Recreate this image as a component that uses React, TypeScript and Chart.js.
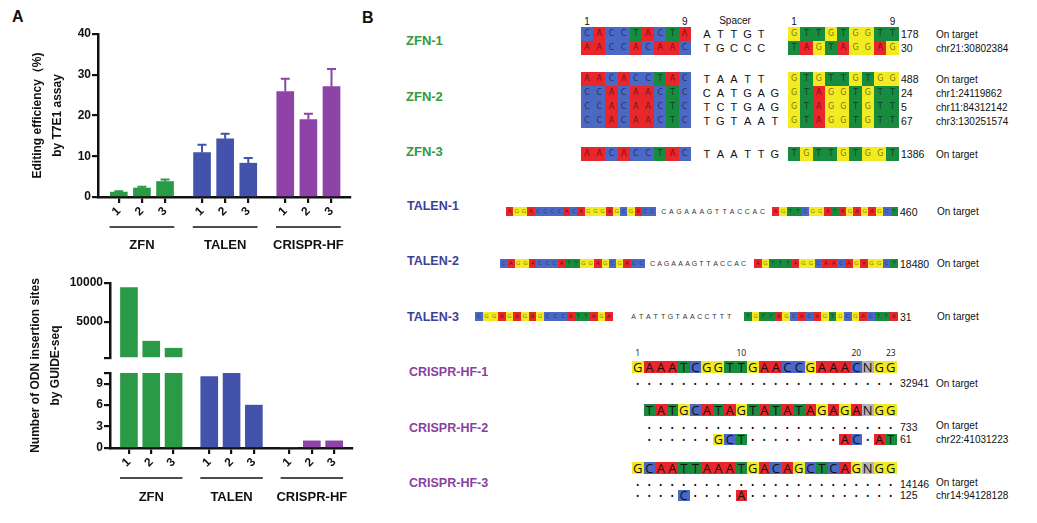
import React, { useEffect, useRef } from 'react';
import { Chart, registerables } from 'chart.js';

Chart.register(...registerables);

// ---------------- Panel A data ----------------
const groupNames = ['ZFN', 'TALEN', 'CRISPR-HF'];
const barGroup = [0, 0, 0, 1, 1, 1, 2, 2, 2];
const barLabels = ['1', '2', '3', '1', '2', '3', '1', '2', '3'];
const barX = [1, 2, 3, 4.6, 5.6, 6.6, 8.2, 9.2, 10.2];
const t7e1Values = [1.2, 2.2, 3.8, 10.9, 14.3, 8.3, 25.9, 19.0, 27.1];
const t7e1Errors = [0.2, 0.3, 0.5, 1.9, 1.2, 1.3, 3.1, 1.4, 4.3];
const t7e1Ticks = [0, 10, 20, 30, 40];
const guideSeqValues = [9400, 2550, 1650, 10, 11, 6, 0, 1, 1];
const lowerTicks = [0, 3, 6, 9];
const lowerMax = 10.5;
const upperTicks = [5000, 10000];
const upperMin = 400;
const groupColors = ['#2b9a46', '#4353ac', '#8d44a6'];

// ---------------- Panel B data ----------------
const zfnNames = ['ZFN-1', 'ZFN-2', 'ZFN-3'];
const zfnLeft = [['CACCTACTA', 'AACCACAAC'], ['AACACCTAC', 'CCACAACTC', 'CCACAACTC', 'CCACAACTC'], ['AACACCTAC']];
const zfnSpacer = [['ATTGT', 'TGCCC'], ['TAATT', 'CATGAG', 'TCTGAG', 'TGTAAT'], ['TAATTG']];
const zfnRight = [['GTTGTGGTT', 'TAGTAGGAG'], ['GTGTTGTGG', 'GTAGGTGTT', 'GTAGGTGTT', 'GTAGGTGTT'], ['TGTTGTGGT']];
const zfnCounts = [['178', '30'], ['488', '24', '5', '67'], ['1386']];
const zfnSites = [['On target', 'chr21:30802384'], ['On target', 'chr1:24119862', 'chr11:84312142', 'chr3:130251574'], ['On target']];

const talenNames = ['TALEN-1', 'TALEN-2', 'TALEN-3'];
const talenLeft = ['AGGACCCCACAGGGAGCGACC', 'CAGGACCCATTGGAGCGACC', 'CGGAGAGAGCCCATTAGA'];
const talenSpacer = ['CAGAAAGTTACCAC', 'CAGAAAGTTACCAC', 'ATATTGTAACCTTT'];
const talenRight = ['AGTTCGGATAGAGAGCT', 'AGTTTAGGCAACAGAGGCT', 'TGTTAGCACAGTGCGACTTA'];
const talenCounts = ['460', '18480', '31'];
const talenSites = ['On target', 'On target', 'On target'];

const crisprNames = ['CRISPR-HF-1', 'CRISPR-HF-2', 'CRISPR-HF-3'];
const crisprGuides = ['GAAATCGGTTGAACCGAAACNGG', '-TATGCATAGTATATAGAGANGG', 'GCAATTAAATGACAGCTCAGNGG'];
const crisprHits = [
  ['.......................'],
  ['-......................', '-......GCT........AC.AT'],
  ['.......................', '....C....A.............'],
];
const crisprCounts = [['32941'], ['733', '61'], ['14146', '125']];
const crisprSites = [['On target'], ['On target', 'chr22:41031223'], ['On target', 'chr14:94128128']];
const crisprPosLabels = ['1', '10', '20', '23'];
const crisprPosCols = [1, 10, 20, 23];

const baseColors: Record<string, string> = {
  A: '#e8262b',
  C: '#4a68c4',
  G: '#f3eb22',
  T: '#178c3e',
  N: '#b4b4b4',
};

const SANS = '"Liberation Sans", Arial, sans-serif';
const OPEN = '"Open Sans", "DejaVu Sans", sans-serif';
const DEJA = '"DejaVu Sans", sans-serif';

const barColors = barGroup.map((g) => groupColors[g]);

Chart.defaults.font.family = SANS;

// ---------------- plugins ----------------
function groupPlugin(lineOffset: number, labelOffset: number) {
  return {
    id: 'groups',
    afterDraw(chart: any) {
      const { ctx, chartArea } = chart;
      const xs = chart.scales.x;
      ctx.save();
      groupNames.forEach((name, g) => {
        const idx = barGroup.map((gg, i) => (gg === g ? i : -1)).filter((i) => i >= 0);
        const x0 = xs.getPixelForValue(barX[idx[0]] - 0.4);
        const x1 = xs.getPixelForValue(barX[idx[idx.length - 1]] + 0.4);
        const y = chartArea.bottom + lineOffset;
        ctx.strokeStyle = '#111';
        ctx.lineWidth = 1.6;
        ctx.beginPath();
        ctx.moveTo(x0, y);
        ctx.lineTo(x1, y);
        ctx.stroke();
        ctx.fillStyle = '#111';
        ctx.font = 'bold 13px ' + SANS;
        ctx.textAlign = 'center';
        ctx.textBaseline = 'middle';
        ctx.fillText(name, (x0 + x1) / 2, chartArea.bottom + labelOffset);
      });
      ctx.restore();
    },
  };
}

const errorPlugin = {
  id: 'errBars',
  afterDatasetsDraw(chart: any) {
    const { ctx } = chart;
    const ys = chart.scales.y;
    const meta = chart.getDatasetMeta(0);
    ctx.save();
    meta.data.forEach((bar: any, i: number) => {
      const v = t7e1Values[i];
      const yv = ys.getPixelForValue(v);
      const yt = ys.getPixelForValue(v + t7e1Errors[i]);
      ctx.strokeStyle = barColors[i];
      ctx.lineWidth = 2;
      ctx.beginPath();
      ctx.moveTo(bar.x, yv);
      ctx.lineTo(bar.x, yt);
      ctx.moveTo(bar.x - 4.5, yt);
      ctx.lineTo(bar.x + 4.5, yt);
      ctx.stroke();
    });
    ctx.restore();
  },
};

function xScale(min: number, max: number, height: number) {
  return {
    type: 'linear',
    min,
    max,
    offset: false,
    z: 1,
    afterBuildTicks: (s: any) => {
      s.ticks = barX.map((v) => ({ value: v }));
    },
    afterFit: (s: any) => {
      s.height = height;
    },
    ticks: {
      autoSkip: false,
      minRotation: 45,
      maxRotation: 45,
      padding: 1,
      color: '#111',
      font: { size: 12, weight: 'bold' },
      callback: (_v: any, i: number) => barLabels[i],
    },
    grid: { drawOnChartArea: false, drawTicks: true, tickLength: 6, color: '#111', lineWidth: 2.2, offset: false },
    border: { display: true, color: '#111', width: 2.5 },
  };
}

const yCommon = {
  grid: { drawOnChartArea: false, drawTicks: true, tickLength: 6, color: '#111', lineWidth: 2.2 },
  border: { display: true, color: '#111', width: 2.5 },
};

function makeTop(canvas: HTMLCanvasElement) {
  return new Chart(canvas, {
    type: 'bar',
    data: {
      datasets: [
        {
          data: barX.map((x, i) => ({ x, y: t7e1Values[i] })),
          backgroundColor: barColors,
          borderWidth: 0,
          barThickness: 17,
        },
      ],
    },
    options: {
      responsive: true,
      maintainAspectRatio: false,
      animation: false,
      events: [],
      layout: { padding: { left: 0, right: 20, top: 34, bottom: 0 } },
      plugins: { legend: { display: false }, tooltip: { enabled: false } },
      scales: {
        x: xScale(0.1, 11, 65),
        y: {
          ...yCommon,
          min: 0,
          max: 40,
          afterBuildTicks: (s: any) => {
            s.ticks = t7e1Ticks.map((v) => ({ value: v }));
          },
          afterFit: (s: any) => {
            s.width = 98;
          },
          ticks: { autoSkip: false, color: '#111', padding: 1, font: { size: 12, weight: 'bold' } },
          title: {
            display: true,
            text: ['Editing efficiency（%)', 'by T7E1 assay'],
            color: '#111',
            font: { size: 12, weight: 'bold', lineHeight: 1.7 },
            padding: { top: 27, bottom: 0 },
          },
        },
      },
    } as any,
    plugins: [errorPlugin, groupPlugin(30, 48)],
  } as any);
}

function makeBottom(canvas: HTMLCanvasElement) {
  return new Chart(canvas, {
    type: 'bar',
    data: {
      datasets: [
        {
          data: barX.map((x, i) => ({ x, y: guideSeqValues[i] >= upperMin ? guideSeqValues[i] : null })),
          yAxisID: 'yUp',
          base: upperMin,
          grouped: false,
          backgroundColor: barColors,
          borderWidth: 0,
          barThickness: 17,
        },
        {
          data: barX.map((x, i) => ({ x, y: Math.min(guideSeqValues[i], lowerMax) })),
          yAxisID: 'yLow',
          grouped: false,
          backgroundColor: barColors,
          borderWidth: 0,
          barThickness: 17,
        },
      ],
    },
    options: {
      responsive: true,
      maintainAspectRatio: false,
      animation: false,
      events: [],
      layout: { padding: { left: 0, right: 18, top: 21, bottom: 0 } },
      plugins: { legend: { display: false }, tooltip: { enabled: false } },
      scales: {
        x: xScale(0.15, 11, 75),
        yLow: {
          ...yCommon,
          axis: 'y',
          type: 'linear',
          position: 'left',
          stack: 'guide',
          stackWeight: 75,
          weight: 1,
          min: 0,
          max: lowerMax,
          afterBuildTicks: (s: any) => {
            s.ticks = [...lowerTicks, lowerMax].map((v) => ({ value: v }));
          },
          afterFit: (s: any) => {
            s.width = 110;
          },
          ticks: {
            autoSkip: false,
            color: '#111',
            padding: 1,
            font: { size: 12, weight: 'bold' },
            callback: (v: any) => (lowerTicks.includes(v) ? String(v) : ''),
          },
        },
        yGap: {
          axis: 'y',
          type: 'linear',
          position: 'left',
          stack: 'guide',
          stackWeight: 15,
          weight: 2,
          min: 0,
          max: 1,
          afterFit: (s: any) => {
            s.width = 110;
          },
          ticks: { display: false },
          grid: { display: false },
          border: { display: false },
          title: {
            display: true,
            text: ['Number of ODN insertion sites', 'by GUIDE-seq'],
            color: '#111',
            font: { size: 12, weight: 'bold', lineHeight: 1.7 },
            padding: { top: 25, bottom: 0 },
          },
        },
        yUp: {
          ...yCommon,
          axis: 'y',
          type: 'linear',
          position: 'left',
          stack: 'guide',
          stackWeight: 75,
          weight: 3,
          min: upperMin,
          max: 10000,
          afterBuildTicks: (s: any) => {
            s.ticks = [upperMin, ...upperTicks].map((v) => ({ value: v }));
          },
          afterFit: (s: any) => {
            s.width = 110;
          },
          ticks: {
            autoSkip: false,
            color: '#111',
            padding: 1,
            font: { size: 12, weight: 'bold' },
            callback: (v: any) => (upperTicks.includes(v) ? String(v) : ''),
          },
        },
      },
    } as any,
    plugins: [groupPlugin(30, 49)],
  } as any);
}

function ChartBox(props: { left: number; top: number; width: number; height: number; make: (c: HTMLCanvasElement) => Chart }) {
  const ref = useRef<HTMLCanvasElement>(null);
  useEffect(() => {
    const c = props.make(ref.current as HTMLCanvasElement);
    return () => c.destroy();
  }, []);
  return (
    <div style={{ position: 'absolute', left: props.left, top: props.top, width: props.width, height: props.height }}>
      <canvas ref={ref} />
    </div>
  );
}

// ---------------- Panel B helpers ----------------
function Txt(props: any) {
  const { x, y, size, color = '#111', weight = 400, family = SANS, align = 'left', children } = props;
  const lh = Math.round(size * 1.3);
  const style: any = {
    position: 'absolute',
    left: x,
    top: y - lh / 2,
    fontSize: size,
    lineHeight: lh + 'px',
    color,
    fontWeight: weight,
    fontFamily: family,
    whiteSpace: 'nowrap',
  };
  if (align === 'center') style.transform = 'translateX(-50%)';
  return <div style={style}>{children}</div>;
}

function Seq(props: any) {
  const { seq, x, top, cw, h, size, textColor = '#111', boxed = true, dotSize = 6, family = DEJA } = props;
  return (
    <div style={{ position: 'absolute', left: x, top, height: h, display: 'flex' }}>
      {Array.from(seq as string).map((ch, i) => {
        const isDot = ch === '.';
        const blank = ch === '-';
        const bg = boxed && !isDot && !blank ? baseColors[ch] : 'transparent';
        return (
          <span
            key={i}
            style={{
              flex: '0 0 auto',
              width: cw,
              height: h,
              background: bg,
              color: isDot ? '#000' : textColor,
              fontSize: isDot ? dotSize : size,
              lineHeight: h + 'px',
              textAlign: 'center',
              fontFamily: family,
              overflow: 'hidden',
            }}
          >
            {isDot ? '•' : blank ? '' : ch}
          </span>
        );
      })}
    </div>
  );
}

function PanelB() {
  const els: any[] = [];
  // ZFN
  const zTops = [27, 72, 147];
  const zNameY = [40, 96, 151];
  const zRow = 14;
  const zLx = 581;
  const zLcw = 12.2;
  const zRx = 788;
  const zRcw = 12.3;
  const zGreen = '#2f9a40';
  els.push(<Txt key="z1" x={zLx + zLcw / 2} y={21} size={10} align="center">1</Txt>);
  els.push(<Txt key="z9" x={zLx + zLcw * 8.5} y={21} size={10} align="center">9</Txt>);
  els.push(<Txt key="zs" x={735} y={20} size={10} align="center">Spacer</Txt>);
  els.push(<Txt key="r1" x={zRx + zRcw / 2} y={21} size={10} align="center">1</Txt>);
  els.push(<Txt key="r9" x={zRx + zRcw * 8.5} y={21} size={10} align="center">9</Txt>);
  zfnNames.forEach((name, b) => {
    els.push(
      <Txt key={'zn' + b} x={406} y={zNameY[b]} size={13} weight={700} color={zGreen}>
        {name}
      </Txt>
    );
    zfnLeft[b].forEach((s, r) => {
      const top = zTops[b] + r * zRow;
      const cy = top + zRow / 2;
      els.push(<Seq key={`zl${b}${r}`} seq={s} x={zLx} top={top} cw={zLcw} h={zRow} size={8} textColor="rgba(0,0,0,0.55)" />);
      els.push(<Seq key={`zs${b}${r}`} seq={zfnSpacer[b][r]} x={700} top={top} cw={13.6} h={zRow} size={11} boxed={false} family={SANS} />);
      els.push(<Seq key={`zr${b}${r}`} seq={zfnRight[b][r]} x={zRx} top={top} cw={zRcw} h={zRow} size={8} textColor="rgba(0,0,0,0.55)" />);
      els.push(<Txt key={`zc${b}${r}`} x={901} y={cy} size={10.5}>{zfnCounts[b][r]}</Txt>);
      els.push(<Txt key={`zt${b}${r}`} x={936} y={cy} size={10}>{zfnSites[b][r]}</Txt>);
    });
  });

  // TALEN
  const tTops = [207, 259, 312];
  const tNameY = [206, 261, 317];
  const tH = 9;
  const tLx = [506, 500, 475];
  const tLw = [150, 145, 138];
  const tSx = [660, 649, 630];
  const tScw = [7.6, 7.0, 7.35];
  const tRx = [772, 754, 744];
  const tRend = 898;
  const tBlue = '#3c3f98';
  talenNames.forEach((name, b) => {
    const top = tTops[b];
    const cy = top + tH / 2;
    els.push(
      <Txt key={'tn' + b} x={407} y={tNameY[b]} size={12.5} weight={700} color={tBlue}>
        {name}
      </Txt>
    );
    els.push(<Seq key={'tl' + b} seq={talenLeft[b]} x={tLx[b]} top={top} cw={tLw[b] / talenLeft[b].length} h={tH} size={5.5} textColor="rgba(0,0,0,0.55)" />);
    els.push(<Seq key={'ts' + b} seq={talenSpacer[b]} x={tSx[b]} top={top} cw={tScw[b]} h={tH} size={7} boxed={false} family={SANS} textColor="#333" />);
    els.push(<Seq key={'tr' + b} seq={talenRight[b]} x={tRx[b]} top={top} cw={(tRend - tRx[b]) / talenRight[b].length} h={tH} size={5.5} textColor="rgba(0,0,0,0.55)" />);
    els.push(<Txt key={'tc' + b} x={900} y={cy} size={10.5}>{talenCounts[b]}</Txt>);
    els.push(<Txt key={'tt' + b} x={937} y={cy} size={10}>{talenSites[b]}</Txt>);
  });

  // CRISPR
  const cx0 = 632;
  const ccw = 11.5;
  const cTops = [361, 404, 462];
  const cH = 12;
  const cHitY = [[383], [427, 439], [484, 495]];
  const cNameY = [372, 428, 483];
  const cPurple = '#8a3f9e';
  crisprPosLabels.forEach((lab, i) => {
    els.push(
      <Txt key={'cp' + i} x={cx0 + (crisprPosCols[i] - 0.5) * ccw} y={352} size={8.5} align="center" family={OPEN}>
        {lab}
      </Txt>
    );
  });
  crisprNames.forEach((name, b) => {
    els.push(
      <Txt key={'cn' + b} x={409} y={cNameY[b]} size={12.5} weight={700} color={cPurple}>
        {name}
      </Txt>
    );
    els.push(<Seq key={'cg' + b} seq={crisprGuides[b]} x={cx0} top={cTops[b]} cw={ccw} h={cH} size={13} family={OPEN} />);
    crisprHits[b].forEach((s, r) => {
      const cy = cHitY[b][r];
      els.push(<Seq key={`ch${b}${r}`} seq={s} x={cx0} top={cy - 5.5} cw={ccw} h={11} size={12.5} dotSize={9} family={OPEN} />);
      els.push(<Txt key={`cc${b}${r}`} x={900} y={cy} size={10.5}>{crisprCounts[b][r]}</Txt>);
      els.push(<Txt key={`ct${b}${r}`} x={936} y={cy - (r === 0 && b > 0 ? 2 : 0)} size={10}>{crisprSites[b][r]}</Txt>);
    });
  });
  return <>{els}</>;
}

export default function App() {
  return (
    <div
      style={{
        position: 'absolute',
        left: 0,
        top: 0,
        width: 1037,
        height: 523,
        background: '#fff',
        overflow: 'hidden',
        fontFamily: SANS,
      }}
    >
      <Txt x={12} y={16} size={16} weight={700}>A</Txt>
      <Txt x={362} y={17} size={16} weight={700}>B</Txt>
      <ChartBox left={0} top={0} width={370} height={262} make={makeTop} />
      <ChartBox left={0} top={262} width={370} height={261} make={makeBottom} />
      <PanelB />
    </div>
  );
}
